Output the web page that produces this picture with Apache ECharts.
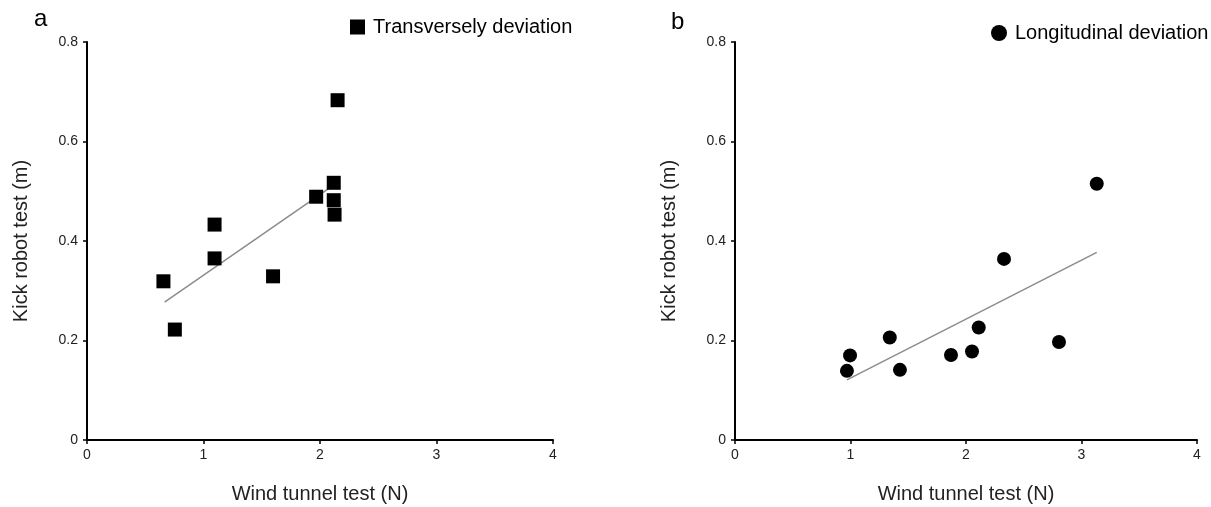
<!DOCTYPE html>
<html>
<head>
<meta charset="utf-8">
<script src="https://cdn.jsdelivr.net/npm/echarts@6/dist/echarts.min.js"></script>
<style>
  html, body { margin: 0; padding: 0; background: #fff; }
  #chart { width: 1211px; height: 507px; }
</style>
</head>
<body>
<div id="chart"></div>
<script>
// panel a: transversely deviation
const windA = [0.656, 0.754, 1.095, 1.095, 1.597, 1.967, 2.118, 2.118, 2.125, 2.151]
const kickA = [0.319, 0.222, 0.433, 0.365, 0.329, 0.489, 0.517, 0.482, 0.453, 0.683]
const trendA = [[0.666, 0.277], [2.12, 0.513]]

// panel b: longitudinal deviation
const windB = [0.969, 0.996, 1.340, 1.428, 1.870, 2.052, 2.110, 2.329, 2.805, 3.132]
const kickB = [0.139, 0.170, 0.206, 0.141, 0.171, 0.178, 0.226, 0.364, 0.197, 0.515]
const trendB = [[0.969, 0.121], [3.132, 0.377]]

const xTicks = ['0', '1', '2', '3', '4']
const yTicks = ['0', '0.2', '0.4', '0.6', '0.8']

const font = 'Liberation Sans, Arial, sans-serif'

function pairs(xs, ys) {
  return xs.map((x, i) => [x, ys[i]])
}

function xAxisFor(gridIndex) {
  return {
    type: 'value',
    gridIndex,
    min: 0,
    max: 4,
    interval: 1,
    name: 'Wind tunnel test (N)',
    nameLocation: 'middle',
    nameGap: 44,
    nameTextStyle: { fontFamily: font, fontSize: 20, color: '#222' },
    axisLine: { onZero: false, lineStyle: { color: '#000', width: 2 } },
    axisTick: { show: true, length: 4, lineStyle: { color: '#000', width: 1.5 } },
    axisLabel: {
      fontFamily: font, fontSize: 14, color: '#222', margin: 8,
      formatter: v => xTicks[Math.round(v)]
    },
    splitLine: { show: false }
  }
}

function yAxisFor(gridIndex) {
  return {
    type: 'value',
    gridIndex,
    min: 0,
    max: 0.8,
    interval: 0.2,
    name: 'Kick robot test (m)',
    nameLocation: 'middle',
    nameGap: 56,
    nameRotate: 90,
    nameTextStyle: { fontFamily: font, fontSize: 20, color: '#222' },
    axisLine: { show: true, lineStyle: { color: '#000', width: 2 } },
    axisTick: { show: true, length: 4, lineStyle: { color: '#000', width: 1.5 } },
    axisLabel: {
      fontFamily: font, fontSize: 14, color: '#222', margin: 9,
      formatter: v => yTicks[Math.round(v / 0.2)]
    },
    splitLine: { show: false }
  }
}

const chart = echarts.init(document.getElementById('chart'))

const option = {
  animation: false,
  backgroundColor: '#fff',
  title: [
    { text: 'a', left: 29, top: 2, textStyle: { fontFamily: font, fontSize: 24, fontWeight: 'normal', color: '#000' } },
    { text: 'b', left: 666, top: 5, textStyle: { fontFamily: font, fontSize: 24, fontWeight: 'normal', color: '#000' } }
  ],
  legend: [
    {
      data: [{ name: 'Transversely deviation', icon: 'rect' }],
      left: 345, top: 12,
      itemWidth: 15, itemHeight: 15,
      textStyle: { fontFamily: font, fontSize: 20, color: '#000', padding: [0, 0, 0, 3] }
    },
    {
      data: [{ name: 'Longitudinal deviation', icon: 'circle' }],
      left: 986, top: 18,
      itemWidth: 16, itemHeight: 16,
      textStyle: { fontFamily: font, fontSize: 20, color: '#000', padding: [0, 0, 0, 3] }
    }
  ],
  grid: [
    { left: 87, top: 42, width: 466, bottom: 67, outerBoundsMode: 'none', containLabel: false },
    { left: 735, top: 42, width: 462, bottom: 67, outerBoundsMode: 'none', containLabel: false }
  ],
  xAxis: [xAxisFor(0), xAxisFor(1)],
  yAxis: [yAxisFor(0), yAxisFor(1)],
  series: [
    {
      name: 'trendA', type: 'line', xAxisIndex: 0, yAxisIndex: 0,
      data: trendA, showSymbol: false, silent: true,
      lineStyle: { color: '#8c8c8c', width: 1.5 }, z: 1
    },
    {
      name: 'Transversely deviation', type: 'scatter', xAxisIndex: 0, yAxisIndex: 0,
      data: pairs(windA, kickA), symbol: 'rect', symbolSize: 14,
      itemStyle: { color: '#000', opacity: 1 }, z: 2
    },
    {
      name: 'trendB', type: 'line', xAxisIndex: 1, yAxisIndex: 1,
      data: trendB, showSymbol: false, silent: true,
      lineStyle: { color: '#8c8c8c', width: 1.5 }, z: 1
    },
    {
      name: 'Longitudinal deviation', type: 'scatter', xAxisIndex: 1, yAxisIndex: 1,
      data: pairs(windB, kickB), symbol: 'circle', symbolSize: 14,
      itemStyle: { color: '#000', opacity: 1 }, z: 2
    }
  ]
}

chart.setOption(option)
</script>
</body>
</html>
